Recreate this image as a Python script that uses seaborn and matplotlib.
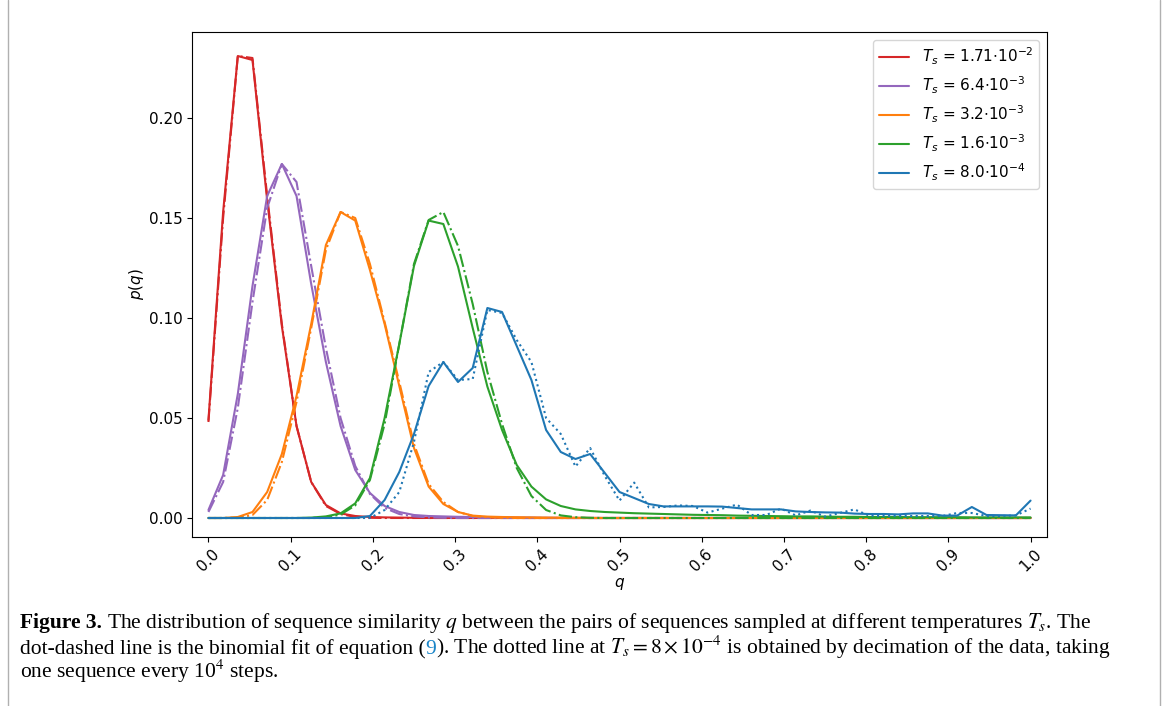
import numpy as np
import matplotlib
matplotlib.use("Agg")
import matplotlib.pyplot as plt
import seaborn as sns
from matplotlib.lines import Line2D

# q = k/56, k = 0..56
q = np.arange(57) / 56

red = [0.049, 0.153, 0.231, 0.229, 0.159, 0.096, 0.046, 0.018, 0.0065, 0.0023,
       0.001, 0.0005, 0.0003, 0.0002, 0.0001] + [0.0] * 42
red_fit = [0.048, 0.150, 0.231, 0.230, 0.161, 0.097, 0.046, 0.018, 0.006, 0.002,
           0.0005, 0.0001] + [0.0] * 45

purple = [0.004, 0.0215, 0.062, 0.116, 0.161, 0.177, 0.161, 0.117, 0.078, 0.046,
          0.024, 0.0125, 0.006, 0.003, 0.0015, 0.001, 0.0008, 0.0006, 0.0005, 0.0004,
          0.0003, 0.0002, 0.0002, 0.0001] + [0.0] * 33
purple_fit = [0.003, 0.018, 0.055, 0.108, 0.155, 0.177, 0.168, 0.126, 0.085, 0.050,
              0.026, 0.012, 0.005, 0.002, 0.0008, 0.0003, 0.0001] + [0.0] * 40

orange = [0.0, 0.0, 0.0005, 0.003, 0.013, 0.032, 0.061, 0.097, 0.1365, 0.153,
          0.1487, 0.124, 0.097, 0.066, 0.035, 0.0157, 0.007, 0.003, 0.0012, 0.0007,
          0.0005, 0.0004, 0.0003, 0.0002, 0.0002, 0.0001] + [0.0] * 31
orange_fit = [0.0, 0.0, 0.0002, 0.0015, 0.009, 0.028, 0.058, 0.095, 0.134, 0.153,
              0.150, 0.127, 0.098, 0.068, 0.037, 0.017, 0.008, 0.003, 0.001, 0.0004,
              0.0001] + [0.0] * 36

green = [0.0] * 7 + [0.0002, 0.0008, 0.0023, 0.0073, 0.02, 0.05, 0.087, 0.126, 0.1487,
                     0.147, 0.1257, 0.095, 0.0657, 0.044, 0.0265, 0.0157, 0.0093, 0.006,
                     0.0043, 0.0035, 0.003, 0.0027, 0.0024, 0.0022, 0.002, 0.0018, 0.0016,
                     0.0015, 0.0014, 0.0012, 0.0011, 0.001, 0.0009, 0.0008, 0.0008, 0.0007,
                     0.0006, 0.0006, 0.0005, 0.0005, 0.0005, 0.0004, 0.0004, 0.0004,
                     0.0004, 0.0003, 0.0003, 0.0003, 0.0003, 0.0003]
green_fit = [0.0] * 8 + [0.0004, 0.0017, 0.0063, 0.019, 0.047, 0.087, 0.127, 0.149, 0.153,
                         0.136, 0.107, 0.073, 0.047, 0.025, 0.011, 0.004, 0.0013, 0.0004,
                         0.0001] + [0.0] * 30

blue = [0.0] * 11 + [0.001, 0.009, 0.023, 0.042, 0.066, 0.078, 0.068, 0.075, 0.105, 0.103,
                     0.086, 0.069, 0.044, 0.033, 0.0295, 0.032, 0.0225, 0.013, 0.010, 0.007,
                     0.0058, 0.0058, 0.0058, 0.0058, 0.0057, 0.005, 0.0043, 0.0043, 0.0043,
                     0.0033, 0.003, 0.0028, 0.0027, 0.0022, 0.002, 0.002, 0.0018, 0.0023,
                     0.0023, 0.0012, 0.0012, 0.0055, 0.0015, 0.0014, 0.0013, 0.0087]
blue_dec = [0.0] * 12 + [0.004, 0.013, 0.038, 0.073, 0.078, 0.069, 0.0695, 0.104, 0.1025,
                         0.089, 0.078, 0.05, 0.042, 0.0257, 0.035, 0.021, 0.0087, 0.0177,
                         0.0053, 0.0055, 0.0063, 0.006, 0.0027, 0.0047, 0.0067, 0.0015,
                         0.0015, 0.0047, 0.0013, 0.0037, 0.0007, 0.0025, 0.0043, 0.0012,
                         0.001, 0.001, 0.001, 0.001, 0.001, 0.0025, 0.0025, 0.001, 0.001,
                         0.0013, 0.0047]

labels = [r"$T_s$ = 1.71$\cdot$10$^{-2}$", r"$T_s$ = 6.4$\cdot$10$^{-3}$",
          r"$T_s$ = 3.2$\cdot$10$^{-3}$", r"$T_s$ = 1.6$\cdot$10$^{-3}$",
          r"$T_s$ = 8.0$\cdot$10$^{-4}$"]
colors = ["#d62728", "#9467bd", "#ff7f0e", "#2ca02c", "#1f77b4"]
data = [red, purple, orange, green, blue]
fits = [red_fit, purple_fit, orange_fit, green_fit, None]

sns.set_style("ticks", rc={"axes.edgecolor": "black", "xtick.color": "black",
                           "ytick.color": "black", "text.color": "black",
                           "axes.labelcolor": "black"})
plt.rcParams["font.family"] = ["DejaVu Sans"]
plt.rcParams["font.size"] = 11

fig = plt.figure(figsize=(11.68, 7.06), dpi=100)
ax = fig.add_axes([192 / 1168, 1 - 537 / 706, 855 / 1168, 505 / 706])

for y, yf, c, lab in zip(data, fits, colors, labels):
    sns.lineplot(x=q, y=y, color=c, lw=1.5, label=lab, ax=ax, legend=False)
    if yf is not None:
        sns.lineplot(x=q, y=yf, color=c, lw=1.5, linestyle="-.", ax=ax, legend=False)
sns.lineplot(x=q, y=blue_dec, color=colors[4], lw=1.5, linestyle=":", ax=ax, legend=False)

ax.set_xlim(-0.02, 1.02)
ax.set_xticks(np.arange(0, 1.01, 0.1))
ax.set_xticklabels([f"{v:.1f}" for v in np.arange(0, 1.01, 0.1)], rotation=45)
ax.set_yticks([0.0, 0.05, 0.10, 0.15, 0.20])
ax.set_ylim(-0.0095, 0.243)
ax.tick_params(labelsize=11)
ax.set_xlabel(r"$q$", fontsize=11, labelpad=1)
ax.set_ylabel(r"$p(q)$", fontsize=11, labelpad=2)
ax.legend(loc="upper right", fontsize=11)

# page frame
fig.add_artist(Line2D([8 / 1168, 8 / 1168], [0, 1], color="#b0b0b0", lw=1))
fig.add_artist(Line2D([1160 / 1168, 1160 / 1168], [0, 1], color="#b0b0b0", lw=1))

# caption
cap = dict(fontfamily="Liberation Serif", fontsize=15.5, math_fontfamily="stix", va="baseline")
renderer = fig.canvas.get_renderer()
inv = fig.transFigure.inverted()


def put_line(pieces, x0, y0):
    x = x0
    for s, kw in pieces:
        gap = kw.pop("gap", 0)
        t = fig.text(x, y0, s, **cap, **kw)
        bb = t.get_window_extent(renderer)
        x = inv.transform((bb.x1 + gap, bb.y0))[0]


put_line([("Figure 3.", dict(fontweight="bold", gap=5)),
          (r"The distribution of sequence similarity $q$ between the pairs of sequences "
           r"sampled at different temperatures $T_s$. The", {})], 20 / 1168, 1 - 628 / 706)
put_line([("dot-dashed line is the binomial fit of equation (", {}),
          ("9", dict(color="#1a85c8")),
          (r"). The dotted line at $T_s = 8\times10^{-4}$ is obtained by decimation of "
           r"the data, taking", {})], 20 / 1168, 1 - 654 / 706)
put_line([(r"one sequence every 10$^4$ steps.", {})], 20 / 1168, 1 - 678 / 706)

fig.savefig("out.png", dpi=100)
